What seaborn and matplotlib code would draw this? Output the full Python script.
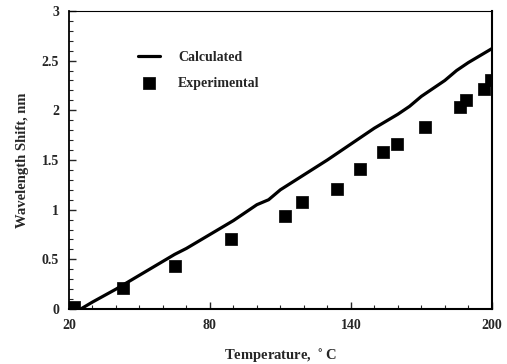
import matplotlib
matplotlib.use("Agg")
import matplotlib.pyplot as plt
from matplotlib.ticker import MultipleLocator
import seaborn as sns
import pandas as pd

calc_temp = [25, 30, 40, 50, 60, 65, 70, 80, 90, 100, 105, 110, 120, 130, 140, 150, 160, 165, 170, 180, 185, 190, 200]
calc_shift = [0.0, 0.07, 0.20, 0.34, 0.48, 0.55, 0.61, 0.75, 0.89, 1.05, 1.10, 1.20, 1.35, 1.50, 1.66, 1.82, 1.96, 2.04, 2.14, 2.30, 2.40, 2.48, 2.62]

exp_temp = [22, 43, 65, 89, 112, 119, 134, 144, 153.5, 159.5, 171.5, 186.5, 189, 196.5, 199.5]
exp_shift = [0.02, 0.21, 0.43, 0.70, 0.94, 1.08, 1.21, 1.41, 1.58, 1.66, 1.83, 2.03, 2.10, 2.21, 2.30]

x_ticks = [20, 80, 140, 200]
y_ticks = [0, 0.5, 1, 1.5, 2, 2.5, 3]
y_tick_labels = ["0", "0.5", "1", "1.5", "2", "2.5", "3"]

sns.set_style("ticks")
plt.rcParams["font.family"] = ["Liberation Serif", "DejaVu Serif"]
plt.rcParams["font.weight"] = "bold"

calc_df = pd.DataFrame({"Temperature": calc_temp, "Shift": calc_shift})
exp_df = pd.DataFrame({"Temperature": exp_temp, "Shift": exp_shift})

fig = plt.figure(figsize=(5.07, 3.64), dpi=100)
ax = fig.add_axes([0.136, 0.151, 0.834, 0.819])

sns.lineplot(data=calc_df, x="Temperature", y="Shift", ax=ax, color="black",
             linewidth=2.3, label="Calculated", legend=False)
sns.scatterplot(data=exp_df, x="Temperature", y="Shift", ax=ax, color="black",
                marker="s", s=75, edgecolor="black", linewidth=0.5,
                label="Experimental", legend=False, zorder=3)

ax.set_xlim(20, 200)
ax.set_ylim(0, 3)
ax.set_xticks(x_ticks)
ax.set_yticks(y_ticks)
ax.set_yticklabels(y_tick_labels)
ax.xaxis.set_minor_locator(MultipleLocator(10))
ax.yaxis.set_minor_locator(MultipleLocator(0.1))
ax.tick_params(axis="both", which="major", direction="in", length=5, width=1,
               labelsize=10, pad=7)
ax.tick_params(axis="both", which="minor", direction="in", length=3, width=0.8)
for lbl in ax.get_xticklabels() + ax.get_yticklabels():
    lbl.set_fontweight("bold")

for side in ["left", "bottom", "right", "top"]:
    ax.spines[side].set_visible(True)
    ax.spines[side].set_color("black")
ax.spines["left"].set_linewidth(1.3)
ax.spines["bottom"].set_linewidth(1.5)
ax.spines["right"].set_linewidth(1.5)
ax.spines["top"].set_linewidth(0.8)

ax.set_xlabel("Temperature, $^\\circ$C", fontsize=10.5, fontweight="bold", labelpad=10)
ax.set_ylabel("Wavelength Shift, nm", fontsize=10.5, fontweight="bold", labelpad=9)

leg = ax.legend(loc="upper left", bbox_to_anchor=(0.133, 0.907), frameon=False,
                prop={"size": 10, "weight": "bold"}, handlelength=1.6,
                handletextpad=1.3, labelspacing=0.9)

fig.savefig("out.png", dpi=100)
